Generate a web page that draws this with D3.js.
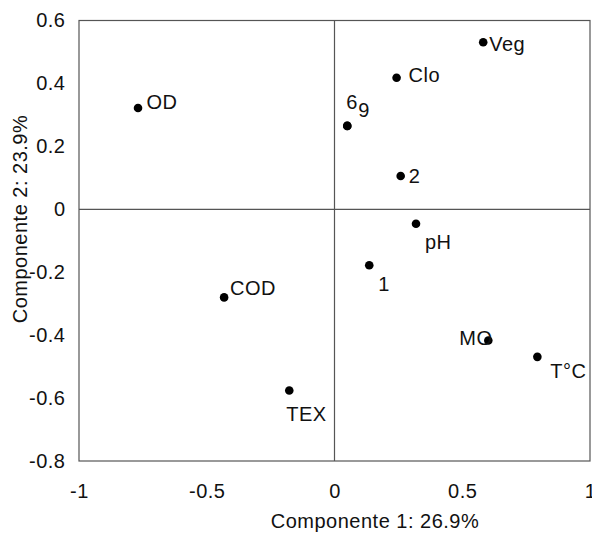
<!DOCTYPE html>
<html>
<head>
<meta charset="utf-8">
<script src="https://cdn.jsdelivr.net/npm/d3@7"></script>
<style>
  html, body { margin: 0; padding: 0; background: #fff; }
  svg { display: block; }
  text { font-family: "Liberation Sans", Arial, sans-serif; fill: #111; }
</style>
</head>
<body>
<svg id="chart" width="592" height="538"></svg>
<script>
// ---- data ----
const names   = ["OD", "Veg", "Clo", "6", "9", "2", "pH", "1", "COD", "TEX", "MO", "T°C"];
const comp1   = [-0.769, 0.582, 0.243, 0.050, 0.050, 0.259, 0.319, 0.136, -0.432, -0.177, 0.602, 0.794];
const comp2   = [0.322, 0.531, 0.418, 0.265, 0.265, 0.106, -0.046, -0.178, -0.280, -0.576, -0.417, -0.469];
const xTicks  = [-1, -0.5, 0, 0.5, 1];
const yTicks  = [0.6, 0.4, 0.2, 0, -0.2, -0.4, -0.6, -0.8];
const xTitle  = "Componente 1: 26.9%";
const yTitle  = "Componente 2: 23.9%";

// ---- layout (label placement relative to each point) ----
const labelOffset = {
  "OD": [8.5, 1], "Veg": [6, 9], "Clo": [12, 4], "6": [-1, -17], "9": [11, -9],
  "2": [8, 7], "pH": [9, 25], "1": [9, 26], "COD": [6, -2], "TEX": [-3, 30],
  "MO": [-29, 5], "T°C": [13, 21]
};

const svg = d3.select("#chart");
const x = d3.scaleLinear().domain([-1, 1]).range([79, 590]);
const y = d3.scaleLinear().domain([-0.8, 0.6]).range([461, 20.5]);
const FS = 20, LS = 0.5;
const lineColor = "#555";

// frame
svg.append("rect")
  .attr("x", x(-1)).attr("y", y(0.6))
  .attr("width", x(1) - x(-1)).attr("height", y(-0.8) - y(0.6))
  .attr("fill", "none").attr("stroke", lineColor).attr("stroke-width", 1.2);

// zero lines
svg.append("line")
  .attr("x1", x(-1)).attr("x2", x(1)).attr("y1", y(0)).attr("y2", y(0))
  .attr("stroke", lineColor).attr("stroke-width", 1.2);
svg.append("line")
  .attr("x1", x(0)).attr("x2", x(0)).attr("y1", y(0.6)).attr("y2", y(-0.8))
  .attr("stroke", lineColor).attr("stroke-width", 1.2);

// axes
const fmt = d => String(d);
const gy = svg.append("g").attr("transform", `translate(${x(-1)},0)`)
  .call(d3.axisLeft(y).tickValues(yTicks).tickSize(0).tickPadding(13.5).tickFormat(fmt));
const gx = svg.append("g").attr("transform", `translate(0,${y(-0.8)})`)
  .call(d3.axisBottom(x).tickValues(xTicks).tickSize(0).tickPadding(22.8).tickFormat(fmt));
[gx, gy].forEach(g => {
  g.select(".domain").remove();
  g.attr("font-family", null).attr("font-size", null);
  g.selectAll("text")
    .style("font-size", FS + "px")
    .style("letter-spacing", LS + "px")
    .attr("fill", "#111");
});

// axis titles
svg.append("text")
  .attr("x", 375).attr("y", 528)
  .attr("text-anchor", "middle")
  .style("font-size", FS + "px").style("letter-spacing", LS + "px")
  .text(xTitle);
svg.append("text")
  .attr("transform", "translate(27,219) rotate(-90)")
  .attr("text-anchor", "middle")
  .style("font-size", FS + "px").style("letter-spacing", LS + "px")
  .text(yTitle);

// points
const pts = names.map((n, i) => ({ name: n, c1: comp1[i], c2: comp2[i] }));
svg.append("g").selectAll("circle").data(pts).join("circle")
  .attr("cx", d => x(d.c1)).attr("cy", d => y(d.c2))
  .attr("r", 4.3).attr("fill", "#000");

// labels
svg.append("g").selectAll("text").data(pts).join("text")
  .attr("x", d => x(d.c1) + labelOffset[d.name][0])
  .attr("y", d => y(d.c2) + labelOffset[d.name][1])
  .style("font-size", FS + "px").style("letter-spacing", LS + "px")
  .text(d => d.name);
</script>
</body>
</html>
